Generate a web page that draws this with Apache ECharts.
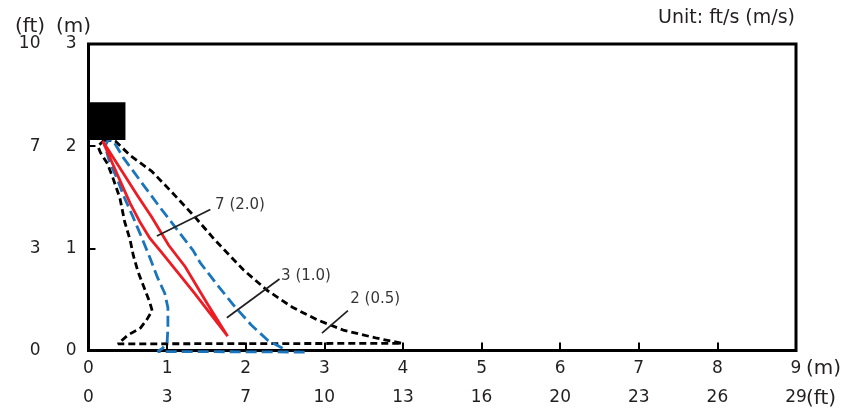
<!DOCTYPE html>
<html>
<head>
<meta charset="utf-8">
<script src="https://cdn.jsdelivr.net/npm/echarts@6/dist/echarts.min.js"></script>
<style>
  html, body { margin: 0; padding: 0; background: #fff; }
  #chart { width: 857px; height: 414px; }
</style>
</head>
<body>
<div id="chart"></div>
<script>
// Distance axes: metres with foot equivalents
const xMeters = [0, 1, 2, 3, 4, 5, 6, 7, 8, 9];
const xFeet = ['0', '3', '7', '10', '13', '16', '20', '23', '26', '29'];
const yMeters = [0, 1, 2, 3];
const yFeet = ['0', '3', '7', '10'];

// Unit outline (x0, y0, x1, y1) in metres
const unitBox = [[0, 2.06, 0.47, 2.43]];

// Air-velocity envelope 2 ft/s (0.5 m/s)
const envelope05 = [
  [0.20, 2.06], [0.34, 2.05], [0.53, 1.91], [0.81, 1.75], [1.06, 1.55],
  [1.35, 1.31], [1.61, 1.08], [1.97, 0.79], [2.27, 0.59], [2.60, 0.42],
  [2.91, 0.30], [3.24, 0.20], [3.67, 0.12], [3.99, 0.07],
  [0.375, 0.065], [0.40, 0.07], [0.50, 0.15], [0.66, 0.22], [0.74, 0.30],
  [0.81, 0.39], [0.78, 0.47], [0.72, 0.59], [0.63, 0.77], [0.57, 0.93],
  [0.53, 1.08], [0.46, 1.26], [0.40, 1.49], [0.31, 1.69], [0.24, 1.83],
  [0.15, 1.94], [0.12, 2.00], [0.20, 2.06]
];

// Air-velocity envelope 3 ft/s (1.0 m/s)
const envelope10 = [
  [2.75, -0.015], [0.88, -0.01], [0.94, 0.02], [1.00, 0.08], [1.01, 0.22],
  [1.01, 0.42], [0.97, 0.56], [0.88, 0.71], [0.78, 0.91], [0.68, 1.10],
  [0.57, 1.30], [0.46, 1.49], [0.36, 1.69], [0.27, 1.84], [0.21, 2.00],
  [0.25, 2.06], [0.31, 2.06], [0.44, 1.89], [0.66, 1.66], [0.91, 1.40],
  [1.13, 1.18], [1.33, 0.98], [1.42, 0.86], [1.64, 0.64], [1.85, 0.44],
  [2.07, 0.25], [2.28, 0.10], [2.51, 0.005]
];

// Air-velocity envelope 7 ft/s (2.0 m/s)
const envelope20 = [
  [0.18, 2.05], [0.43, 1.75], [0.62, 1.52], [0.81, 1.30], [1.02, 1.03],
  [1.23, 0.82], [1.51, 0.46], [1.77, 0.14],
  [1.35, 0.56], [0.94, 0.95], [0.78, 1.10], [0.66, 1.25], [0.53, 1.44],
  [0.38, 1.70], [0.18, 2.05]
];

// Leader lines and their captions
const leaders = [
  [[0.87, 1.12], [1.55, 1.38]],
  [[1.76, 0.32], [2.43, 0.70]],
  [[2.97, 0.17], [3.30, 0.39]]
];
const captionNames = ['7 (2.0)', '3 (1.0)', '2 (0.5)'];
const captionAnchors = [[1.61, 1.42], [2.45, 0.73], [3.33, 0.50]];

const FONT = 'DejaVu Sans';
const TEXT = '#231f20';

const chart = echarts.init(document.getElementById('chart'), null, { renderer: 'canvas' });

const valueAxisBase = {
  type: 'value',
  axisLine: { show: false },
  splitLine: { show: false }
};

const series = [
  {
    type: 'line', data: envelope05, symbol: 'none', clip: false, z: 3,
    lineStyle: { color: '#000', width: 2.8, type: [7, 4] }
  },
  {
    type: 'line', data: envelope10, symbol: 'none', clip: false, z: 4,
    lineStyle: { color: '#1a75bc', width: 2.8, type: [11, 5] }
  },
  {
    type: 'line', data: envelope20, symbol: 'none', clip: false, z: 5,
    lineStyle: { color: '#ed1c24', width: 2.8, join: 'miter' }
  },
  {
    type: 'custom', data: unitBox, clip: false, z: 10,
    encode: { x: [0, 2], y: [1, 3] },
    renderItem: function (params, api) {
      const a = api.coord([api.value(0), api.value(3)]);
      const b = api.coord([api.value(2), api.value(1)]);
      return {
        type: 'rect',
        shape: { x: a[0], y: a[1], width: b[0] - a[0], height: b[1] - a[1] },
        style: { fill: '#000' }
      };
    }
  },
  {
    type: 'scatter', symbolSize: 0, z: 12, clip: false,
    itemStyle: { color: '#000' },
    data: captionNames.map((n, i) => ({ name: n, value: captionAnchors[i] })),
    label: {
      show: true, position: 'right', distance: 0,
      formatter: p => p.name,
      fontFamily: FONT, fontSize: 15, color: '#000'
    }
  }
];
leaders.forEach(seg => {
  series.push({
    type: 'line', data: seg, symbol: 'none', clip: false, z: 11,
    lineStyle: { color: '#231f20', width: 1.7 }
  });
});

chart.setOption({
  animation: false,
  backgroundColor: '#fff',
  grid: {
    left: 88.5, right: 61, top: 44, bottom: 63.5,
    show: true, borderColor: '#000', borderWidth: 3, backgroundColor: 'transparent'
  },
  xAxis: [
    Object.assign({}, valueAxisBase, {
      position: 'bottom', min: 0, max: 9, interval: 1,
      axisTick: { show: true, inside: true, length: 8, lineStyle: { color: '#000', width: 2 } },
      axisLabel: { margin: 10, fontFamily: FONT, fontSize: 17, color: TEXT,
                   formatter: v => String(xMeters[v]) }
    }),
    Object.assign({}, valueAxisBase, {
      position: 'bottom', offset: 0, min: 0, max: 9, interval: 1,
      axisTick: { show: false },
      axisLabel: { margin: 39, fontFamily: FONT, fontSize: 17, color: TEXT,
                   formatter: v => xFeet[v] }
    })
  ],
  yAxis: [
    Object.assign({}, valueAxisBase, {
      position: 'left', min: 0, max: 3, interval: 1,
      axisTick: { show: true, inside: true, length: 7, lineStyle: { color: '#000', width: 2 } },
      axisLabel: { margin: 12, fontFamily: FONT, fontSize: 17, color: TEXT,
                   formatter: v => String(yMeters[v]) }
    }),
    Object.assign({}, valueAxisBase, {
      position: 'left', offset: 0, min: 0, max: 3, interval: 1,
      axisTick: { show: false },
      axisLabel: { margin: 48, fontFamily: FONT, fontSize: 17, color: TEXT,
                   formatter: v => yFeet[v] }
    })
  ],
  graphic: [
    { type: 'text', left: 15, top: 17,
      style: { text: '(ft)', font: '20px "DejaVu Sans"', fill: TEXT } },
    { type: 'text', left: 56, top: 17,
      style: { text: '(m)', font: '20px "DejaVu Sans"', fill: TEXT } },
    { type: 'text', right: 62, top: 9,
      style: { text: 'Unit: ft/s (m/s)', font: '19px "DejaVu Sans"', fill: TEXT } },
    { type: 'text', left: 806, top: 359,
      style: { text: '(m)', font: '20px "DejaVu Sans"', fill: TEXT } },
    { type: 'text', left: 806, top: 389,
      style: { text: '(ft)', font: '20px "DejaVu Sans"', fill: TEXT } }
  ],
  series: series
});
</script>
</body>
</html>
